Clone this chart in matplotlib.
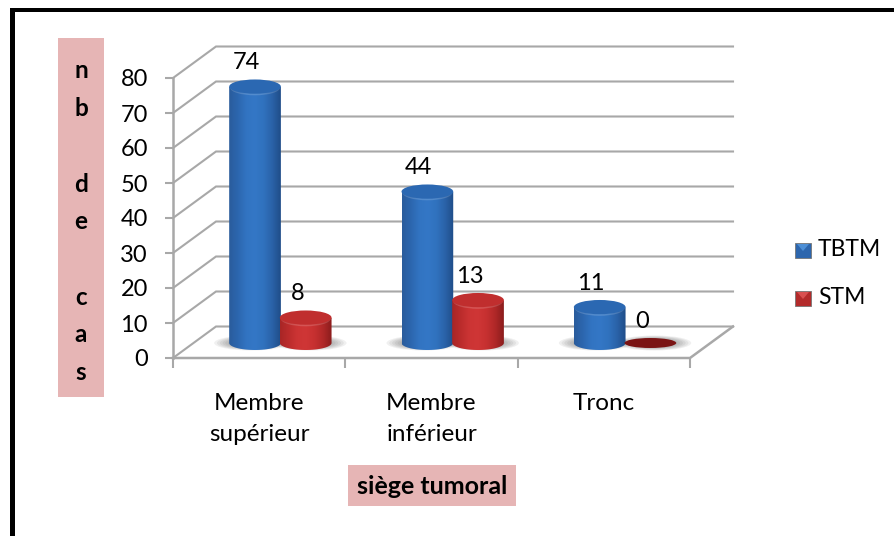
import numpy as np
import matplotlib
matplotlib.use('Agg')
import matplotlib.pyplot as plt
from matplotlib.patches import Ellipse, Rectangle, PathPatch, Polygon
from matplotlib.path import Path

plt.rcParams['font.family'] = ['Lato', 'DejaVu Sans']

categories = ['Membre\nsupérieur', 'Membre\ninférieur', 'Tronc']
tbtm = [74, 44, 11]
stm = [8, 13, 0]
y_ticks = [0, 10, 20, 30, 40, 50, 60, 70, 80]
ylabel_letters = ['n', 'b', '', 'd', 'e', '', 'c', 'a', 's']

W, H = 894, 536
GREY = '#a8a8a8'
PINK = '#e6b5b5'
FS = 17

fig = plt.figure(figsize=(W / 100, H / 100), dpi=100)
bg = fig.add_axes([0, 0, 1, 1])
bg.set_xlim(0, W)
bg.set_ylim(H, 0)
bg.axis('off')

# cadre noir, seulement en haut et a gauche
bg.add_patch(Rectangle((9.5, 8), 5.5, H - 8, color='black', lw=0))
bg.add_patch(Rectangle((9.5, 8), W - 9.5, 3.5, color='black', lw=0))

# boites roses
bg.add_patch(Rectangle((58, 38), 46, 359, color=PINK, lw=0))
bg.add_patch(Rectangle((348, 465), 168, 41, color=PINK, lw=0))
bg.text(432, 486, 'siège tumoral', ha='center', va='center', fontsize=18,
        fontweight='bold', color='black')
for i, c in enumerate(ylabel_letters):
    if c:
        bg.text(81, 71 + i * 37.7, c, ha='center', va='center', fontsize=17.5,
                fontweight='bold', color='black')

# axes principal : x en categories, y en valeurs
x0, x1, ytop, ybot = 173, 690, 78, 358
ax = fig.add_axes([x0 / W, 1 - ybot / H, (x1 - x0) / W, (ybot - ytop) / H])
ax.set_xlim(0, 3)
ax.set_ylim(0, 80)
ax.patch.set_alpha(0)
for s in ax.spines.values():
    s.set_visible(False)

px_x = 3 / (x1 - x0)
px_y = 80 / (ybot - ytop)
dx = 43 * px_x
dy = 31.5 * px_y

# mur du fond et cote gauche
for v in y_ticks:
    ax.plot([0, dx, 3 + dx], [v, v + dy, v + dy], color=GREY, lw=1.5,
            clip_on=False, zorder=1, solid_joinstyle='miter')
ax.plot([0, 0], [0, 80], color=GREY, lw=1.8, clip_on=False, zorder=1)
ax.plot([0, 3, 3 + dx], [0, 0, dy], color=GREY, lw=1.8, clip_on=False, zorder=1)

ax.set_yticks(y_ticks)
ax.set_yticklabels([str(v) for v in y_ticks], fontsize=FS, color='black')
ax.set_xticks([0, 1, 2, 3], minor=True)
ax.set_xticks([0.5, 1.5, 2.5])
ax.set_xticklabels(categories, fontsize=17.5, color='black', linespacing=1.55)
ax.tick_params(axis='y', length=6, width=1.5, color=GREY, pad=12)
ax.tick_params(axis='x', which='major', length=0, pad=25.5)
ax.tick_params(axis='x', which='minor', length=7, width=1.5, color=GREY)


def shade(colors):
    # degrade horizontal du cylindre
    cols = np.array([matplotlib.colors.to_rgb(c) for c in colors])
    t = np.linspace(0, 1, len(cols))
    tt = np.linspace(0, 1, 200)
    return np.dstack([np.interp(tt, t, cols[:, k]) for k in range(3)])


BLUE = ['#2a5c9c', '#2c66ae', '#3274c2', '#3477c6', '#3072be', '#2a62a8', '#1f4d88']
RED = ['#a82626', '#bb2c2c', '#cc3434', '#cf3636', '#c63030', '#b02828', '#8a1c1c']
BLUE_TOP = '#2b68b2'
RED_TOP = '#c02e2e'
BAR_W = 0.30
RX = BAR_W / 2
TOP_RY = 7.5 * px_y
BASE_RY = 7 * px_y
BASE = 15 * px_y      # centre de la base au dessus de l'axe
TOP_BASE = 12 * px_y  # decalage du sommet


def cylinder(xc, val, colors, top_col, side):
    left = xc - RX
    right = xc + RX
    ytop_v = val + TOP_BASE
    # ombre douce
    for k in np.linspace(1.0, 0.55, 7):
        ax.add_patch(Ellipse((xc + side * 4 * px_x, BASE), (BAR_W + 22 * px_x) * k,
                             15 * px_y * k, color='#444444', alpha=0.08, lw=0,
                             zorder=2, clip_on=False))
    if val == 0:
        ax.add_patch(Ellipse((xc, BASE), BAR_W, 2 * 5 * px_y, color='#7a1414',
                             lw=0, zorder=4, clip_on=False))
        return
    verts = [(left, ytop_v), (left, BASE)]
    th = np.linspace(np.pi, 2 * np.pi, 30)
    verts += [(xc + RX * np.cos(a), BASE + BASE_RY * np.sin(a)) for a in th]
    verts += [(right, ytop_v), (left, ytop_v)]
    clip = PathPatch(Path(verts), transform=ax.transData, fc='none', ec='none')
    ax.add_patch(clip)
    clip.set_clip_on(False)
    im = ax.imshow(shade(colors), extent=[left, right, BASE - BASE_RY, ytop_v],
                   aspect='auto', zorder=3)
    im.set_clip_path(clip)
    # sommet : bord clair en bas, puis couleur pleine
    ax.add_patch(Ellipse((xc, ytop_v - 0.8 * px_y), BAR_W * 0.96, 2 * TOP_RY, color='white',
                         alpha=0.16, lw=0, zorder=4, clip_on=False))
    ax.add_patch(Ellipse((xc, ytop_v + 0.4 * px_y), BAR_W, 2 * TOP_RY * 0.95, color=top_col, lw=0,
                         zorder=4, clip_on=False))


OFF_B = 0.476
OFF_R = 0.77
for i in range(3):
    cylinder(i + OFF_B, tbtm[i], BLUE, BLUE_TOP, -1)
    cylinder(i + OFF_R, stm[i], RED, RED_TOP, 1)
    ax.text(i + OFF_B - 8.5 * px_x, tbtm[i] + 36.5 * px_y, str(tbtm[i]), ha='center',
            va='center', fontsize=FS, zorder=6, clip_on=False)
    ax.text(i + OFF_R - 8.5 * px_x, stm[i] + 36 * px_y, str(stm[i]), ha='center',
            va='center', fontsize=FS, zorder=6, clip_on=False)
ax.set_xlim(0, 3)
ax.set_ylim(0, 80)

# legende
for y, col, lab, tri in [(250, '#2d66ad', 'TBTM', '#4d8fd6'), (298, '#b32b2b', 'STM', '#d95050')]:
    bg.add_patch(Rectangle((795, y - 7), 16, 15, fc=col, ec='#777777', lw=0.6))
    bg.add_patch(Polygon([[797, y - 6], [809, y - 6], [803, y + 1]], fc=tri, lw=0))
    bg.text(818, y, lab, ha='left', va='center', fontsize=16.5, color='black')

fig.savefig('out.png', dpi=100)
